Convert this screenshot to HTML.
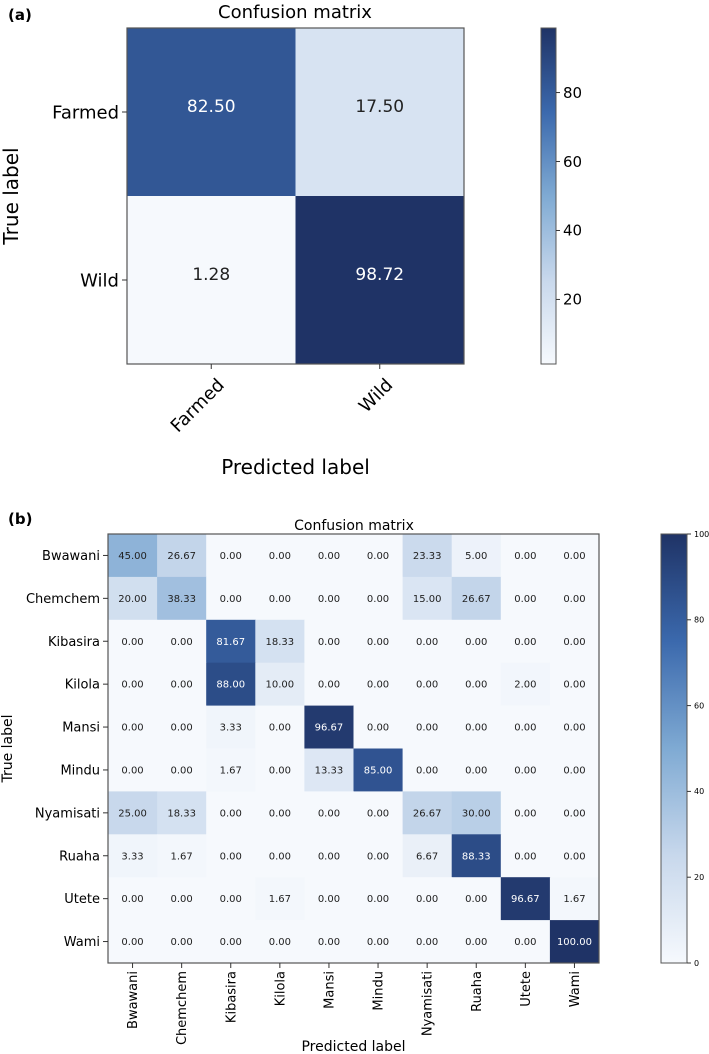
<!DOCTYPE html>
<html><head><meta charset="utf-8"><style>
body{margin:0;background:#fff;}
svg{display:block;font-family:"DejaVu Sans","Liberation Sans",sans-serif;}
</style></head><body>
<svg id="s" width="709" height="1054" viewBox="0 0 709 1054" xmlns="http://www.w3.org/2000/svg">
<defs>
<linearGradient id="cb" x1="0" y1="1" x2="0" y2="0">
<stop offset="0" stop-color="#f6f9fd"/><stop offset="0.25" stop-color="#c8d8ec"/><stop offset="0.5" stop-color="#7faad3"/><stop offset="0.75" stop-color="#3b69ad"/><stop offset="1" stop-color="#1f3366"/>
</linearGradient>
</defs>
<text x="8" y="20" font-size="15" font-weight="bold">(a)</text>
<text x="295" y="18" font-size="18" text-anchor="middle">Confusion matrix</text>
<text x="8" y="524" font-size="15" font-weight="bold">(b)</text>
<text x="354" y="530" font-size="14" text-anchor="middle">Confusion matrix</text>
<g id="ga"></g><g id="gb"></g>
</svg>
<script>
const catsA=["Farmed","Wild"];
const valsA=[[82.50,17.50],[1.28,98.72]];
const ticksA=[20,40,60,80];
const catsB=["Bwawani","Chemchem","Kibasira","Kilola","Mansi","Mindu","Nyamisati","Ruaha","Utete","Wami"];
const valsB=[
[45.00,26.67,0,0,0,0,23.33,5.00,0,0],
[20.00,38.33,0,0,0,0,15.00,26.67,0,0],
[0,0,81.67,18.33,0,0,0,0,0,0],
[0,0,88.00,10.00,0,0,0,0,2.00,0],
[0,0,3.33,0,96.67,0,0,0,0,0],
[0,0,1.67,0,13.33,85.00,0,0,0,0],
[25.00,18.33,0,0,0,0,26.67,30.00,0,0],
[3.33,1.67,0,0,0,0,6.67,88.33,0,0],
[0,0,0,1.67,0,0,0,0,96.67,1.67],
[0,0,0,0,0,0,0,0,0,100.00]];
const ticksB=[0,20,40,60,80,100];
const NS="http://www.w3.org/2000/svg";
const stops=[[0,[246,249,253]],[0.25,[200,216,236]],[0.5,[127,170,211]],[0.75,[59,105,173]],[1,[31,51,102]]];
function cmap(t){t=Math.max(0,Math.min(1,t));for(let i=1;i<stops.length;i++){if(t<=stops[i][0]){const a=stops[i-1],b=stops[i];const f=(t-a[0])/(b[0]-a[0]);const c=a[1].map((v,k)=>Math.round(v+(b[1][k]-v)*f));return `rgb(${c})`;}}return "rgb(31,51,102)";}
function el(p,tag,attrs,txt){const e=document.createElementNS(NS,tag);for(const k in attrs)e.setAttribute(k,attrs[k]);if(txt!==undefined)e.textContent=txt;p.appendChild(e);return e;}
function draw(g,cats,vals,o){
 const n=cats.length;let mn=Infinity,mx=-Infinity;vals.forEach(r=>r.forEach(v=>{mn=Math.min(mn,v);mx=Math.max(mx,v);}));
 if(o.vmin!==undefined){mn=o.vmin;mx=o.vmax;}
 const cw=(o.x1-o.x0)/n,ch=(o.y1-o.y0)/n;const xs=i=>o.x0+i*cw,ys=j=>o.y0+j*ch;
 vals.forEach((r,j)=>r.forEach((v,i)=>{
  const c=el(g,"rect",{x:xs(i),y:ys(j),width:cw+0.5,height:ch+0.5,fill:cmap((v-mn)/(mx-mn))});
  
  
  const t=el(g,"text",{x:xs(i)+cw/2,y:ys(j)+ch/2+o.fs*0.35-o.tdy,"font-size":o.fs,"text-anchor":"middle",fill:v>(mn+mx)/2?"#fff":"#222"},v.toFixed(2));
  
  
 }));
 el(g,"rect",{x:o.x0,y:o.y0,width:o.x1-o.x0,height:o.y1-o.y0,fill:"none",stroke:"#555","stroke-width":1.2});
 cats.forEach((c,j)=>{const y=ys(j)+ch/2;el(g,"line",{x1:o.x0-5,x2:o.x0,y1:y,y2:y,stroke:"#333"});
  const t=el(g,"text",{x:o.x0-8,y:y+o.lfs*0.35,"font-size":o.lfs,"text-anchor":"end"},c);
  
  });
 cats.forEach((c,i)=>{const x=xs(i)+cw/2;el(g,"line",{x1:x,x2:x,y1:o.y1,y2:o.y1+5,stroke:"#333"});
  const ty=o.y1+8;let t;
  if(o.rot===45){t=el(g,"text",{x:x+14,y:ty+14,"font-size":o.lfs,"text-anchor":"end",transform:`rotate(-45 ${x+14} ${ty+14})`},c);}
  else{t=el(g,"text",{x:x+o.lfs*0.35,y:ty,"font-size":o.lfs,"text-anchor":"end",transform:`rotate(-90 ${x+o.lfs*0.35} ${ty})`},c);}
  
  });
 const xl=el(g,"text",{x:(o.x0+o.x1)/2,y:o.xly,"font-size":o.afs,"text-anchor":"middle"},"Predicted label");
 
 
 const yl=el(g,"text",{x:o.ylx,y:(o.y0+o.y1)/2,"font-size":o.afs,"text-anchor":"middle",transform:`rotate(-90 ${o.ylx} ${(o.y0+o.y1)/2})`},"True label");
 
 
 const cb=el(g,"rect",{x:o.cx0,y:o.y0,width:o.cx1-o.cx0,height:o.y1-o.y0,fill:"url(#cb)",stroke:"#555","stroke-width":1});
 
 
 o.ticks.forEach(v=>{const y=o.y1-(v-mn)/(mx-mn)*(o.y1-o.y0);el(g,"line",{x1:o.cx1,x2:o.cx1+4,y1:y,y2:y,stroke:"#333"});
  const t=el(g,"text",{x:o.cx1+7,y:y+o.cfs*0.35,"font-size":o.cfs},v);
  
  });
}
draw(document.getElementById("ga"),catsA,valsA,{x0:127,x1:464,y0:28,y1:364,cx0:541,cx1:556,fs:17,lfs:18,afs:20,tdy:6,rot:45,xly:474,ylx:18,ticks:ticksA,cfs:15});
draw(document.getElementById("gb"),catsB,valsB,{x0:108,x1:599,y0:534,y1:963,cx0:661,cx1:687,fs:10,lfs:13,afs:14,tdy:0,rot:90,xly:1051,ylx:12,ticks:ticksB,cfs:8,vmin:0,vmax:100});
</script>
</body></html>
